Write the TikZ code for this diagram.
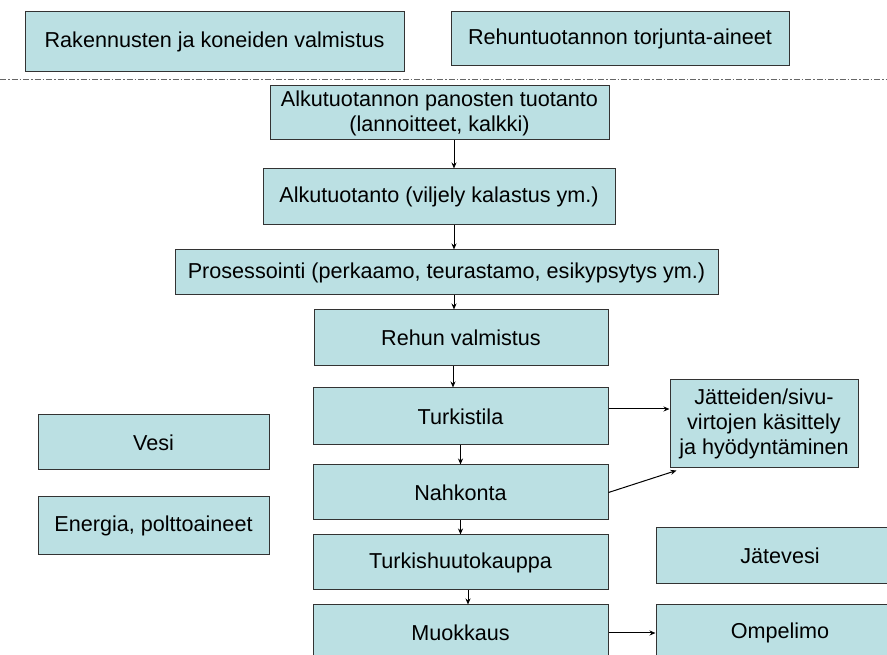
\documentclass[tikz,border=0pt]{standalone}
\usepackage{fontspec}
\setmainfont{Liberation Sans}
\usetikzlibrary{arrows.meta}
\definecolor{boxfill}{HTML}{BBE0E3}
\definecolor{boxline}{HTML}{333333}
\begin{document}
\begin{tikzpicture}[x=1pt, y=1pt, >={Stealth[length=6pt,width=5pt]},
    stage/.style={rectangle, draw=boxline, fill=boxfill, line width=1pt, inner sep=0pt,
        align=center, font=\fontsize{21.6}{25}\selectfont},
    flow/.style={->, line width=1pt}]
    \useasboundingbox (0,0) rectangle (887,655);
    \node (rak) [stage, minimum width=379, minimum height=60] at (214.5,613) {Rakennusten ja koneiden valmistus};
    \node (reh) [stage, minimum width=338, minimum height=54] at (620,616) {Rehuntuotannon torjunta-aineet};
    \draw[gray!80!black, line width=0.8pt, dash pattern=on 6pt off 2pt on 1.5pt off 2pt] (0,576) -- (887,576);

    \node (panos) [stage, minimum width=339, minimum height=54] at (439.5,542) {Alkutuotannon panosten tuotanto\\(lannoitteet, kalkki)};
    \node (alku) [stage, minimum width=352, minimum height=56] at (439,458) {Alkutuotanto (viljely kalastus ym.)};
    \node (pros) [stage, minimum width=543, minimum height=45] at (446.5,382.5) {Prosessointi (perkaamo, teurastamo, esikypsytys ym.)};
    \node (rehun) [stage, minimum width=294, minimum height=56] at (461,317) {Rehun valmistus};
    \node (turk) [stage, minimum width=295, minimum height=57] at (460.5,238.5) {Turkistila};
    \node (nahk) [stage, minimum width=295, minimum height=55] at (460.5,162.5) {Nahkonta};
    \node (huuto) [stage, minimum width=295, minimum height=55] at (460.5,92.5) {Turkishuutokauppa};
    \node (muok) [stage, minimum width=295, minimum height=56] at (460.5,22) {Muokkaus};
    \node (jate) [stage, minimum width=188, minimum height=88] at (764,231) {J\"atteiden/sivu-\\virtojen k\"asittely\\ja hy\"odynt\"aminen};
    \node (vesi) [stage, minimum width=231, minimum height=55] at (153.5,212.5) {Vesi};
    \node (ener) [stage, minimum width=231, minimum height=58] at (153.5,129) {Energia, polttoaineet};
    \node (jvesi) [stage, minimum width=248, minimum height=56] at (780,99) {J\"atevesi};
    \node (ompe) [stage, minimum width=248, minimum height=56] at (780,22) {Ompelimo};

    \draw[flow] ([xshift=14.5pt]panos.south) -- ([xshift=14.5pt]panos.south |- alku.north);
    \draw[flow] ([xshift=15pt]alku.south) -- ([xshift=15pt]alku.south |- pros.north);
    \draw[flow] ([xshift=7.5pt]pros.south) -- ([xshift=7.5pt]pros.south |- rehun.north);
    \draw[flow] ([xshift=-8pt]rehun.south) -- ([xshift=-8pt]rehun.south |- turk.north);
    \draw[flow] (turk) -- (nahk);
    \draw[flow] (nahk) -- (huuto);
    \draw[flow] ([xshift=7.5pt]huuto.south) -- ([xshift=7.5pt]huuto.south |- muok.north);
    \draw[flow] (muok) -- (ompe);
    \draw[flow] ([yshift=7.5pt]turk.east) -- ([yshift=7.5pt]turk.east -| jate.west);
    \draw[flow] (nahk.east) -- ([shift={(7pt,-2pt)}]jate.south west);
\end{tikzpicture}
\end{document}
